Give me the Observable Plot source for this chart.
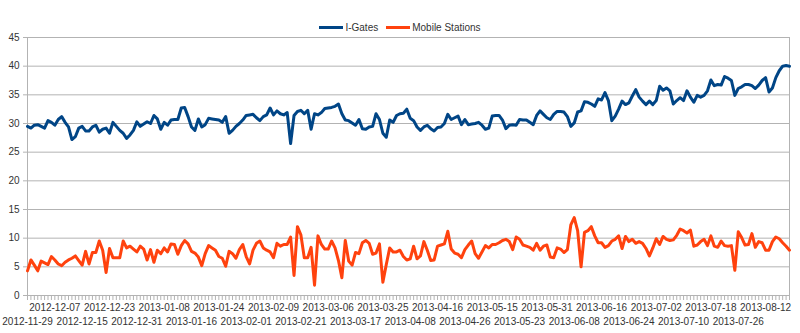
<!DOCTYPE html>
<html><head><meta charset="utf-8">
<script src="https://cdn.jsdelivr.net/npm/d3@7"></script>
<script src="https://cdn.jsdelivr.net/npm/@observablehq/plot@0.6"></script>
<style>
body{margin:0;background:#fff;font-family:"Liberation Sans",Arial,sans-serif;}
#wrap{position:relative;width:800px;height:333px;}
#legend{position:absolute;top:21px;left:0;width:800px;height:12px;display:flex;justify-content:center;align-items:center;font-size:10px;color:#333;z-index:2;}
.item{display:flex;align-items:center;margin:0 4px;}
.sw{width:24px;height:3px;margin-right:2px;}
</style></head><body><div id="wrap"><div id="legend"></div></div>
<script>
const tickLabels = ["2012-11-29","2012-12-07","2012-12-15","2012-12-23","2012-12-31","2013-01-08","2013-01-16","2013-01-24","2013-02-01","2013-02-09","2013-02-21","2013-03-06","2013-03-17","2013-03-25","2013-04-08","2013-04-16","2013-04-26","2013-05-15","2013-05-23","2013-05-31","2013-06-08","2013-06-16","2013-06-24","2013-07-02","2013-07-10","2013-07-18","2013-07-26","2013-08-12"];
const labelEvery = 8;
const yTicks = [0,5,10,15,20,25,30,35,40,45];
const seriesNames = ["I-Gates","Mobile Stations"];
const seriesColors = ["#004586","#ff420e"];
const iGates = [
29.5,29.2,29.7,29.8,29.5,29.2,30.5,30.2,29.7,30.7,
31.2,30.2,29.4,27.2,27.7,29.2,29.5,28.7,28.7,29.4,
29.7,28.5,29.0,29.2,28.3,30.2,29.5,28.8,28.3,27.4,
28.0,28.8,30.3,29.5,29.9,30.3,30.0,31.4,30.8,29.0,
30.2,29.7,30.6,30.7,30.7,32.7,32.8,31.2,29.4,28.8,
30.8,29.4,29.8,30.9,30.8,30.7,30.6,30.2,31.2,28.3,
28.8,29.5,30.0,30.6,31.4,31.5,31.6,31.0,30.5,31.2,
31.5,32.7,31.5,32.2,31.7,31.5,31.9,26.5,31.4,32.1,
32.3,31.7,32.3,29.0,31.7,31.5,31.9,32.6,32.7,32.8,
33.0,33.4,31.7,30.6,30.5,30.1,29.7,30.7,29.1,29.0,
29.4,29.5,31.7,30.7,28.3,27.6,30.6,30.2,31.4,
31.7,31.8,32.5,30.9,30.5,29.4,28.8,29.4,29.7,29.1,
28.7,29.3,29.4,30.0,31.6,30.7,31.0,31.3,29.8,30.7,
29.8,29.9,30.0,30.2,29.7,29.0,29.2,31.3,31.4,31.4,
30.6,29.1,29.7,29.8,29.7,30.7,30.6,30.6,30.2,29.8,
31.4,32.2,31.6,31.0,30.7,31.6,32.1,32.1,32.0,31.2,
29.5,30.1,32.0,32.2,33.8,33.7,33.4,33.0,34.3,34.1,
35.4,34.0,30.5,31.3,32.5,33.9,33.3,33.6,34.8,35.9,
34.6,33.9,33.3,33.9,33.3,34.0,36.5,35.8,36.2,35.7,
33.4,34.0,34.5,34.0,35.7,34.6,33.7,34.9,34.6,34.9,
35.7,37.6,36.6,36.8,36.7,38.2,37.9,37.5,34.9,36.1,
36.4,36.8,36.8,36.6,36.1,36.7,37.5,38.0,35.5,36.2,
38.0,39.2,40.0,40.1,40.0
];
const mobileStations = [
4.3,6.2,5.3,4.3,6.0,5.7,5.4,6.8,6.2,5.5,
5.2,5.8,6.2,6.5,6.9,6.1,5.3,7.7,5.5,7.5,
7.5,9.5,7.9,4.0,8.2,6.6,6.6,6.6,9.5,8.3,
8.6,8.1,7.6,8.6,8.1,6.2,8.0,5.8,7.9,7.3,
8.3,7.6,9.0,8.9,7.2,8.7,9.6,9.0,7.7,7.4,
6.7,5.2,7.3,8.7,8.3,7.9,6.8,6.5,5.1,7.7,
7.3,6.5,8.0,8.9,6.8,5.5,7.9,9.1,9.5,8.3,
7.9,7.6,6.6,9.1,8.6,8.9,8.9,10.2,3.5,12.0,
10.6,6.6,6.6,8.4,1.8,10.4,8.9,8.1,8.1,9.5,
8.3,6.1,3.1,9.6,6.0,5.3,7.5,7.3,9.2,9.6,
9.1,7.2,7.4,9.0,2.3,5.4,8.3,7.6,7.6,
7.9,6.8,6.2,6.4,8.6,6.4,6.9,9.4,7.9,6.1,
6.2,8.6,8.8,9.0,11.2,8.1,7.4,7.2,6.6,8.0,
8.8,9.5,7.3,6.5,7.6,8.7,8.3,8.9,8.9,9.2,
9.6,9.8,9.4,8.0,10.2,9.8,8.8,8.6,8.4,7.9,
9.1,7.9,8.6,8.8,6.7,6.6,8.3,8.1,7.5,8.0,
12.3,13.6,11.3,5.0,11.0,11.3,12.0,10.4,9.2,9.2,
8.4,8.7,9.5,9.8,10.4,8.2,10.3,9.4,9.8,9.1,
9.4,9.1,8.2,6.9,8.3,9.9,8.9,10.3,9.8,9.6,
9.7,10.5,11.6,11.3,10.9,11.4,8.6,8.8,9.4,9.8,
8.7,10.4,8.6,8.4,9.5,8.7,8.6,8.7,4.4,11.1,
10.1,8.8,8.9,10.8,8.4,9.4,9.2,7.9,7.9,9.4,
10.2,9.9,9.2,8.6,7.9
];

const rows = [];
[iGates, mobileStations].forEach((arr, s) => arr.forEach((v, i) => rows.push({i, v, s: seriesNames[s]})));
const n = iGates.length;
const allIdx = d3.range(n);
const labelIdx = tickLabels.map((_, k) => k * labelEvery);
const upperIdx = labelIdx.filter((_, k) => k % 2 === 1);
const lowerIdx = labelIdx.filter((_, k) => k % 2 === 0);
const fmt = i => tickLabels[i / labelEvery];
const grid = "#b3b3b3";

const chart = Plot.plot({
  width: 800, height: 333,
  marginTop: 37, marginBottom: 38, marginLeft: 27, marginRight: 11,
  style: {fontFamily: '"Liberation Sans", Arial, sans-serif', fontSize: "10px", color: "#333", background: "#fff"},
  x: {domain: [0, n - 1], axis: null},
  y: {domain: [0, 45], axis: null},
  color: {domain: seriesNames, range: seriesColors},
  marks: [
    Plot.gridY(yTicks, {stroke: grid, strokeOpacity: 1}),
    Plot.axisY(yTicks, {tickSize: 4, tickPadding: 4, stroke: grid, fill: "#333", label: null}),
    Plot.ruleX([0], {stroke: grid}),
    Plot.ruleX([n - 1], {stroke: grid}),
    Plot.axisX(allIdx, {tickSize: 5, tickFormat: () => "", stroke: grid, label: null}),
    Plot.axisX(upperIdx, {tickSize: 0, tickPadding: 8, tickFormat: fmt, fill: "#333", label: null}),
    Plot.axisX(lowerIdx, {tickSize: 0, tickPadding: 22, tickFormat: fmt, fill: "#333", label: null}),
    Plot.line(rows, {x: "i", y: "v", z: "s", stroke: "s", strokeWidth: 3, strokeLinejoin: "round"})
  ]
});
document.getElementById("wrap").appendChild(chart);

const legend = document.getElementById("legend");
seriesNames.forEach((name, k) => {
  const it = document.createElement("div"); it.className = "item";
  const sw = document.createElement("span"); sw.className = "sw"; sw.style.background = seriesColors[k];
  const tx = document.createElement("span"); tx.textContent = name;
  it.appendChild(sw); it.appendChild(tx); legend.appendChild(it);
});
</script>
</body></html>
